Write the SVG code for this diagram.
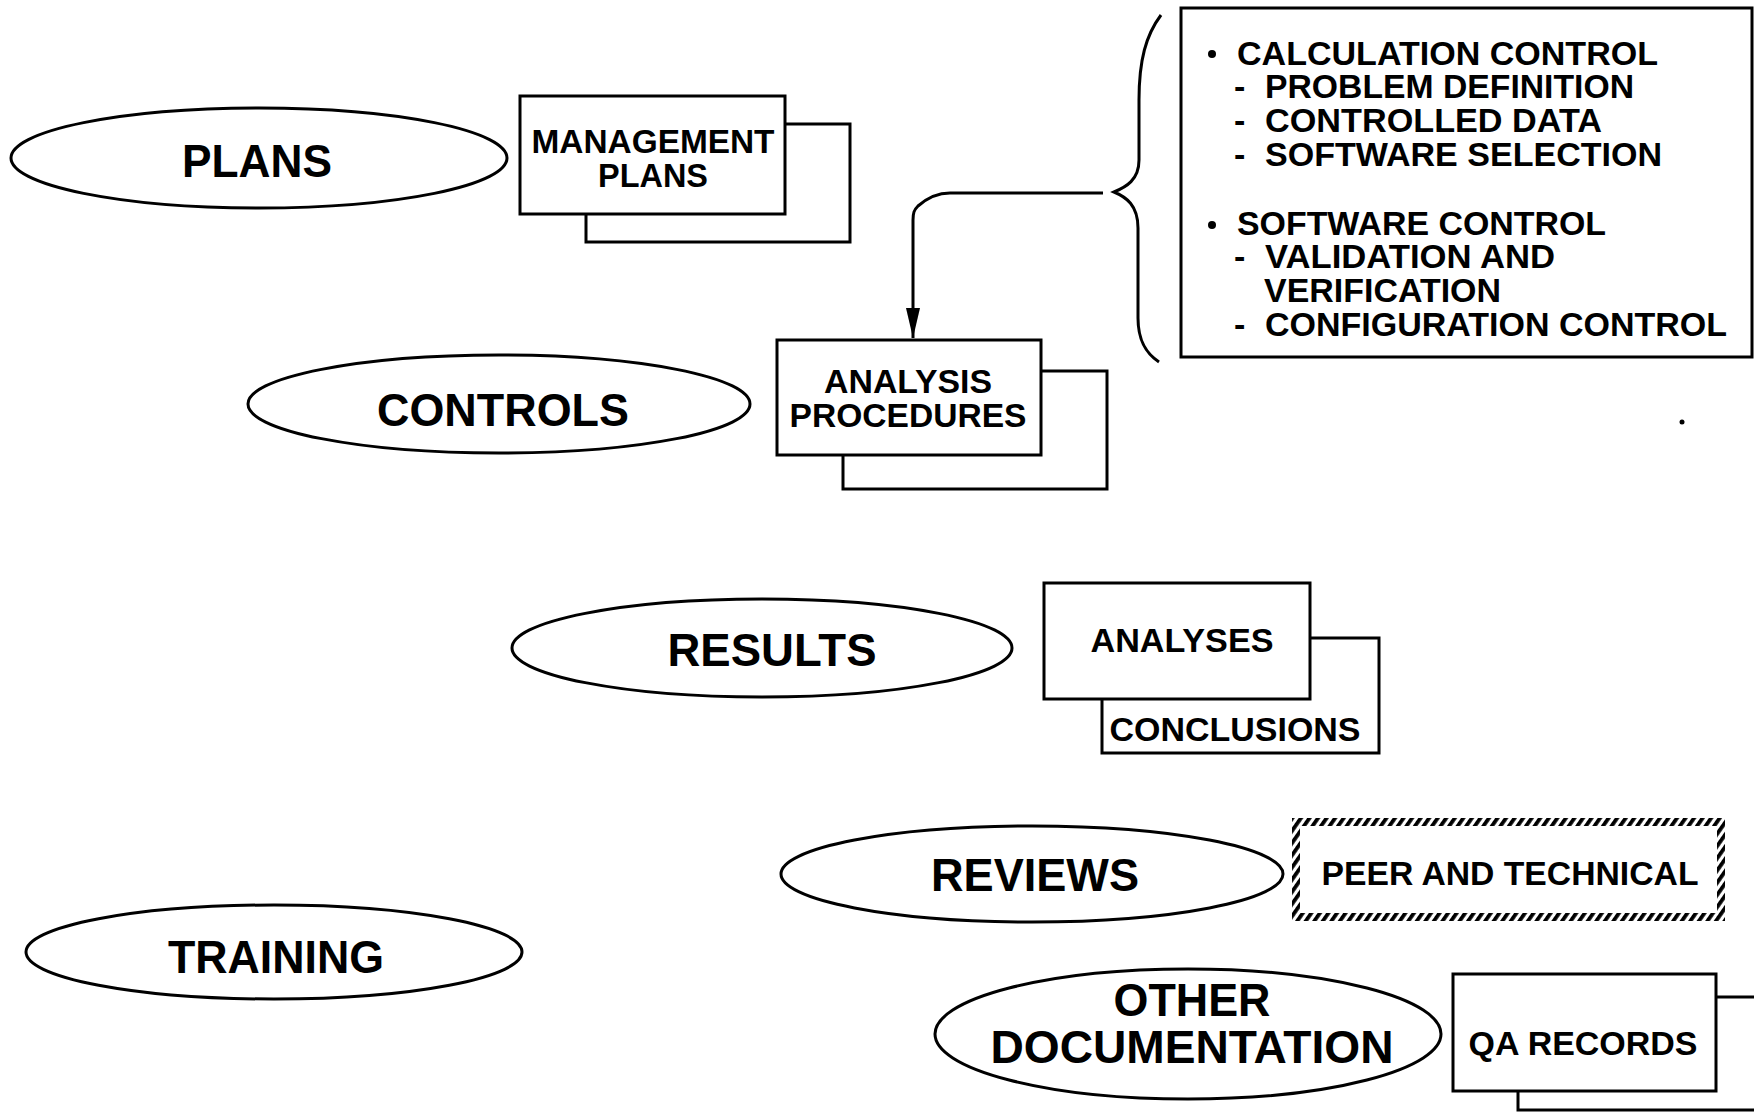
<svg xmlns="http://www.w3.org/2000/svg" width="1754" height="1112" viewBox="0 0 1754 1112">
  <style>
    text { font-family: "Liberation Sans", Arial, Helvetica, sans-serif; font-weight: bold; fill: #000; }
    .big { font-size: 47px; text-anchor: middle; }
    .lbl { font-size: 34px; text-anchor: middle; }
    .item { font-size: 34px; }
    .oval { fill: #fff; stroke: #000; stroke-width: 3; }
    .box { fill: #fff; stroke: #000; stroke-width: 3; }
    .line { fill: none; stroke: #000; stroke-width: 3; }
  </style>
  <defs>
    <marker id="arrow" viewBox="0 0 30 14" refX="30" refY="7" markerWidth="30" markerHeight="14" markerUnits="userSpaceOnUse" orient="auto">
      <path d="M0,0 L30,7 L0,14 Z" fill="#000"/>
    </marker>
    <pattern id="hatch" width="7" height="7" patternUnits="userSpaceOnUse" patternTransform="rotate(35)">
      <rect width="3.8" height="7" fill="#000"/>
    </pattern>
  </defs>
  <rect width="1754" height="1112" fill="#fff"/>

  <!-- category ovals -->
  <g id="plans">
    <ellipse class="oval" cx="259" cy="158" rx="248" ry="50"/>
    <text class="big" x="257" y="177" textLength="150" lengthAdjust="spacingAndGlyphs">PLANS</text>
  </g>
  <g id="controls">
    <ellipse class="oval" cx="499" cy="404" rx="251" ry="49"/>
    <text class="big" x="503" y="426" textLength="252" lengthAdjust="spacingAndGlyphs">CONTROLS</text>
  </g>
  <g id="results">
    <ellipse class="oval" cx="762" cy="648" rx="250" ry="49"/>
    <text class="big" x="772" y="666" textLength="209" lengthAdjust="spacingAndGlyphs">RESULTS</text>
  </g>
  <g id="reviews">
    <ellipse class="oval" cx="1032" cy="874" rx="251" ry="48"/>
    <text class="big" x="1035" y="891" textLength="208" lengthAdjust="spacingAndGlyphs">REVIEWS</text>
  </g>
  <g id="training">
    <ellipse class="oval" cx="274" cy="952" rx="248" ry="47"/>
    <text class="big" x="276" y="973" textLength="216" lengthAdjust="spacingAndGlyphs">TRAINING</text>
  </g>
  <g id="other-documentation">
    <ellipse class="oval" cx="1188" cy="1034" rx="253" ry="65"/>
    <text class="big" x="1192" y="1016" textLength="157" lengthAdjust="spacingAndGlyphs">OTHER</text>
    <text class="big" x="1192" y="1063" textLength="403" lengthAdjust="spacingAndGlyphs">DOCUMENTATION</text>
  </g>

  <!-- document stacks -->
  <g id="management-plans">
    <rect class="box" x="586" y="124" width="264" height="118"/>
    <rect class="box" x="520" y="96" width="265" height="118"/>
    <text class="lbl" x="653" y="153" textLength="243" lengthAdjust="spacingAndGlyphs">MANAGEMENT</text>
    <text class="lbl" x="653" y="187" textLength="110" lengthAdjust="spacingAndGlyphs">PLANS</text>
  </g>
  <g id="analysis-procedures">
    <rect class="box" x="843" y="371" width="264" height="118"/>
    <rect class="box" x="777" y="340" width="264" height="115"/>
    <text class="lbl" x="908" y="393" textLength="168" lengthAdjust="spacingAndGlyphs">ANALYSIS</text>
    <text class="lbl" x="908" y="427" textLength="237" lengthAdjust="spacingAndGlyphs">PROCEDURES</text>
  </g>
  <g id="analyses-conclusions">
    <rect class="box" x="1102" y="638" width="277" height="115"/>
    <rect class="box" x="1044" y="583" width="266" height="116"/>
    <text class="lbl" x="1182" y="652" textLength="183" lengthAdjust="spacingAndGlyphs">ANALYSES</text>
    <text class="lbl" x="1235" y="741" textLength="251" lengthAdjust="spacingAndGlyphs">CONCLUSIONS</text>
  </g>
  <g id="peer-technical">
    <rect x="1296" y="822" width="425" height="95" fill="#fff" stroke="url(#hatch)" stroke-width="8"/>
    <text class="lbl" x="1510" y="885" textLength="377" lengthAdjust="spacingAndGlyphs">PEER AND TECHNICAL</text>
  </g>
  <g id="qa-records">
    <rect class="box" x="1518" y="997" width="260" height="113"/>
    <rect class="box" x="1453" y="974" width="263" height="117"/>
    <text class="lbl" x="1583" y="1055" textLength="229" lengthAdjust="spacingAndGlyphs">QA RECORDS</text>
  </g>

  <!-- control topics list -->
  <g id="control-topics">
    <rect class="box" x="1181" y="8" width="571" height="349"/>
    <circle cx="1212" cy="54" r="4"/>
    <text class="item" x="1237" y="65" textLength="421" lengthAdjust="spacingAndGlyphs">CALCULATION CONTROL</text>
    <text class="item"><tspan x="1234" y="98">-</tspan><tspan x="1265" y="98" textLength="369" lengthAdjust="spacingAndGlyphs">PROBLEM DEFINITION</tspan></text>
    <text class="item"><tspan x="1234" y="132">-</tspan><tspan x="1265" y="132" textLength="337" lengthAdjust="spacingAndGlyphs">CONTROLLED DATA</tspan></text>
    <text class="item"><tspan x="1234" y="166">-</tspan><tspan x="1265" y="166" textLength="397" lengthAdjust="spacingAndGlyphs">SOFTWARE SELECTION</tspan></text>
    <circle cx="1212" cy="225" r="4"/>
    <text class="item" x="1237" y="235" textLength="369" lengthAdjust="spacingAndGlyphs">SOFTWARE CONTROL</text>
    <text class="item"><tspan x="1234" y="268">-</tspan><tspan x="1265" y="268" textLength="290" lengthAdjust="spacingAndGlyphs">VALIDATION AND</tspan></text>
    <text class="item" x="1264" y="302" textLength="237" lengthAdjust="spacingAndGlyphs">VERIFICATION</text>
    <text class="item"><tspan x="1234" y="336">-</tspan><tspan x="1265" y="336" textLength="462" lengthAdjust="spacingAndGlyphs">CONFIGURATION CONTROL</tspan></text>
  </g>

  <!-- brace and connector -->
  <g id="connectors">
    <path class="line" d="M1161,15 C1146,35 1139,60 1139,100 L1139,160 C1139,180 1126,187 1114,192 C1126,197 1138,205 1138,228 L1138,318 C1138,342 1147,354 1159,362"/>
    <path class="line" d="M1103,193 L950,193 C936,193 926,199 918,206 C914,210 913,213 913,220 L913,338" marker-end="url(#arrow)"/>
  </g>

  <circle cx="1682" cy="422" r="2.5" fill="#000"/>
</svg>
